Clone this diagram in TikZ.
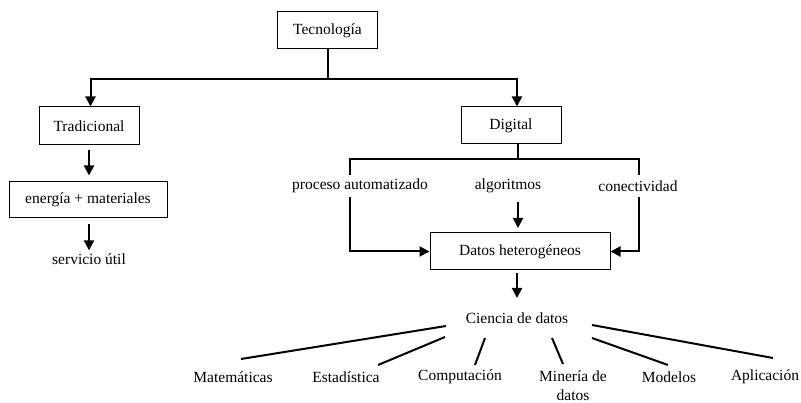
\documentclass[tikz,border=0pt]{standalone}
\usepackage{fontspec}
\setmainfont{Liberation Serif}
\usetikzlibrary{arrows.meta}
\newcommand\diafont{\fontsize{15.5}{19}\selectfont}
\begin{document}
\begin{tikzpicture}[x=1pt,y=-1pt,
  box/.style={draw,line width=1pt,minimum height=37pt,inner sep=0pt,font=\diafont},
  lbl/.style={inner sep=0pt,font=\diafont},
  conn/.style={line width=2pt},
  arr/.style={line width=2pt,-{Triangle[length=10pt,width=10pt]}}]
\useasboundingbox (0,0) rectangle (801,403);
% nodes
\node[box,minimum width=100pt] (tec) at (327.5,30.5) {Tecnología};
\node[box,minimum width=100pt,minimum height=38pt] (trad) at (89,126) {Tradicional};
\node[box,minimum width=158pt,minimum height=36pt] (ener) at (88,200) {energía + materiales};
\node[lbl] (serv) at (89,259) {servicio útil};
\node[box,minimum width=100pt] (dig) at (511,125.5) {Digital};
\node[lbl] (proc) at (360,186) {proceso automatizado};
\node[lbl] (alg) at (508,186) {algoritmos};
\node[lbl] (con) at (638,186) {conectividad};
\node[box,minimum width=180pt] (dat) at (520,251.5) {Datos heterogéneos};
\node[lbl] (cie) at (517,318) {Ciencia de datos};
\node[lbl] (mat) at (233,377) {Matemáticas};
\node[lbl] (est) at (346,377) {Estadística};
\node[lbl] (comp) at (460,377) {Computación};
\node[lbl,align=center] (min) at (573,385.5) {Minería de\\datos};
\node[lbl] (mod) at (669,377) {Modelos};
\node[lbl] (apl) at (765,377) {Aplicación};
% top split
\coordinate (j1) at (328,79);
\coordinate (jl) at (90.5,79);
\coordinate (jr) at (517,79);
\draw[conn] (tec.south -| j1) -- (j1);
\draw[arr] (j1) -- (jl) -- (jl |- trad.north);
\draw[arr] (j1) -- (jr) -- (jr |- dig.north);
% left column
\draw[arr,shorten <=5pt,shorten >=6pt] (trad.south) -- (trad.south |- ener.north);
\draw[arr,shorten <=6pt,shorten >=3pt] (ener.south -| serv) -- (serv.north);
% digital split
\coordinate (d0) at (518,144);
\coordinate (j2) at (518,159);
\coordinate (pl) at (350,159);
\coordinate (pr) at (639,159);
\coordinate (pl0) at (350,175);
\coordinate (pr0) at (639,175);
\coordinate (pl1) at (350,197);
\coordinate (pr1) at (639,197);
\draw[conn] (d0) -- (j2);
\draw[conn] (pl0) -- (pl) -- (pr) -- (pr0);
\draw[arr] (pl1) |- (dat.west);
\draw[arr] (pr1) |- (dat.east);
\coordinate (a0) at (518,202);
\coordinate (a1) at (518,228);
\draw[arr] (a0) -- (a1);
% to ciencia
\coordinate (c0) at (517,273);
\coordinate (c1) at (517,298);
\draw[arr] (c0) -- (c1);
% branches
\coordinate (m0) at (446,326); \coordinate (m1) at (241,359);
\coordinate (e0) at (445,337); \coordinate (e1) at (378,365);
\coordinate (k0) at (485,338); \coordinate (k1) at (475,365);
\coordinate (n0) at (552,338); \coordinate (n1) at (563,364);
\coordinate (o0) at (592,338); \coordinate (o1) at (668,365);
\coordinate (p0) at (592,325); \coordinate (p1) at (773,358);
\draw[conn] (m0) -- (m1);
\draw[conn] (e0) -- (e1);
\draw[conn] (k0) -- (k1);
\draw[conn] (n0) -- (n1);
\draw[conn] (o0) -- (o1);
\draw[conn] (p0) -- (p1);
\end{tikzpicture}
\end{document}
